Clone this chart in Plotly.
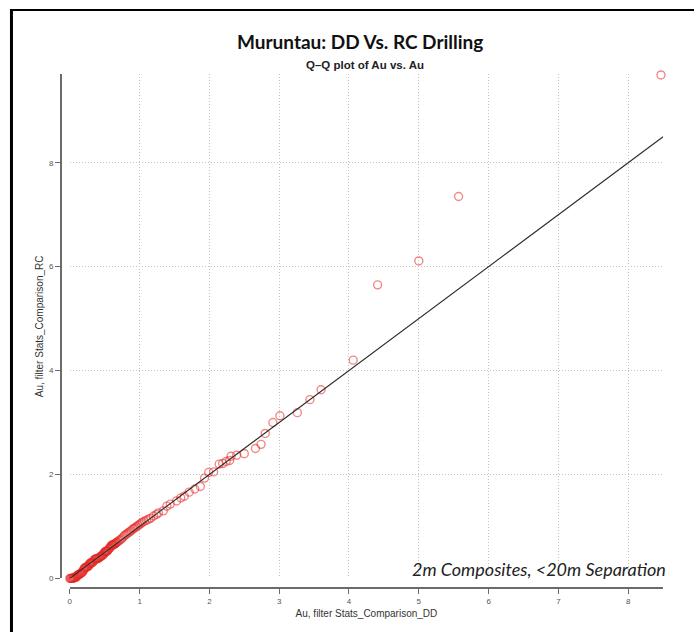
import plotly.graph_objects as go

# Q-Q quantile pairs: DD (x) vs RC (y), Au g/t
dd_quantiles = [
    0.00, 0.01, 0.02, 0.03, 0.04, 0.05, 0.05, 0.06, 0.07, 0.08,
    0.09, 0.10, 0.10, 0.11, 0.12, 0.13, 0.14, 0.15, 0.16, 0.17,
    0.18, 0.19, 0.20, 0.20, 0.21, 0.22, 0.23, 0.24, 0.25, 0.26,
    0.27, 0.28, 0.28, 0.29, 0.30, 0.31, 0.32, 0.33, 0.34, 0.35,
    0.36, 0.37, 0.38, 0.39, 0.40, 0.41, 0.42, 0.43, 0.44, 0.45,
    0.46, 0.47, 0.48, 0.49, 0.50, 0.50, 0.51, 0.52, 0.53, 0.54,
    0.55, 0.56, 0.57, 0.58, 0.59, 0.60, 0.60, 0.61, 0.62, 0.63,
    0.64, 0.65, 0.66, 0.67, 0.68, 0.70, 0.72, 0.74, 0.76, 0.78,
    0.80, 0.82, 0.84, 0.86, 0.88, 0.90, 0.92, 0.94, 0.96, 0.98,
    1.00, 1.02, 1.04, 1.07, 1.10, 1.13, 1.16, 1.20, 1.24, 1.27,
    1.34, 1.39, 1.44, 1.53, 1.59, 1.64, 1.71, 1.79, 1.87, 1.93,
    1.99, 2.06, 2.14, 2.19, 2.24, 2.29, 2.31, 2.39, 2.50, 2.66,
    2.74, 2.80, 2.91, 3.01, 3.26, 3.44, 3.60, 4.06, 4.41, 5.00,
    5.57, 8.47,
]
rc_quantiles = [
    0.00, 0.00, 0.00, 0.00, 0.00, 0.00, 0.01, 0.02, 0.02, 0.02,
    0.03, 0.03, 0.05, 0.06, 0.07, 0.07, 0.08, 0.09, 0.10, 0.11,
    0.12, 0.14, 0.16, 0.18, 0.20, 0.21, 0.21, 0.22, 0.22, 0.23,
    0.24, 0.26, 0.28, 0.29, 0.30, 0.30, 0.30, 0.31, 0.33, 0.36,
    0.37, 0.37, 0.38, 0.38, 0.38, 0.39, 0.40, 0.41, 0.42, 0.43,
    0.44, 0.44, 0.46, 0.48, 0.49, 0.51, 0.52, 0.52, 0.52, 0.53,
    0.55, 0.57, 0.58, 0.60, 0.62, 0.63, 0.64, 0.64, 0.65, 0.65,
    0.66, 0.67, 0.68, 0.69, 0.70, 0.72, 0.74, 0.76, 0.79, 0.82,
    0.84, 0.86, 0.88, 0.90, 0.92, 0.95, 0.96, 0.98, 1.00, 1.02,
    1.04, 1.06, 1.08, 1.10, 1.12, 1.14, 1.16, 1.20, 1.23, 1.26,
    1.30, 1.39, 1.43, 1.49, 1.55, 1.58, 1.66, 1.72, 1.77, 1.93,
    2.04, 2.05, 2.20, 2.21, 2.25, 2.27, 2.35, 2.37, 2.40, 2.50,
    2.58, 2.79, 3.00, 3.13, 3.19, 3.44, 3.63, 4.20, 5.65, 6.11,
    7.35, 9.69,
]

# 1:1 reference line
ref_line = [0.0, 8.5]

x_ticks = [0, 1, 2, 3, 4, 5, 6, 7, 8]
y_ticks = [0, 2, 4, 6, 8]

W, H = 694, 632


def px(v):
    return v / W


def py(v):
    return (H - v) / H


fig = go.Figure()

fig.add_trace(go.Scatter(
    x=dd_quantiles, y=rc_quantiles, mode="markers",
    marker=dict(symbol="circle-open", size=8,
                color="rgba(228,40,36,0.55)",
                line=dict(width=1.4, color="rgba(228,40,36,0.55)")),
    showlegend=False, cliponaxis=False,
))

fig.add_trace(go.Scatter(
    x=ref_line, y=ref_line, mode="lines",
    line=dict(color="#2b2b2b", width=1.1),
    hoverinfo="skip", showlegend=False, cliponaxis=False,
))

axis_common = dict(
    showline=True, linecolor="#6b6b6b", linewidth=1.5,
    ticks="outside", ticklen=5, tickwidth=1, tickcolor="#6b6b6b",
    tickfont=dict(family="Liberation Sans, Arial, sans-serif", size=8, color="#555555"),
    showgrid=True, gridcolor="#c4c4c4", gridwidth=1, griddash="1px,2px",
    zeroline=False, fixedrange=True,
)

fig.update_layout(
    width=W, height=H,
    margin=dict(l=0, r=0, t=0, b=0),
    paper_bgcolor="white", plot_bgcolor="white",
    xaxis=dict(
        **axis_common,
        domain=[px(68), px(663)], range=[0, 8.5],
        anchor="free", position=py(593),
        tickvals=x_ticks,
        title=dict(text="Au, filter Stats_Comparison_DD", standoff=4,
                   font=dict(family="Liberation Sans, Arial, sans-serif", size=10, color="#333333")),
    ),
    yaxis=dict(
        **axis_common,
        domain=[py(583), py(75)], range=[0, 9.7],
        anchor="free", position=px(59),
        tickvals=y_ticks,
        title=dict(text="Au, filter Stats_Comparison_RC", standoff=3,
                   font=dict(family="Liberation Sans, Arial, sans-serif", size=10, color="#333333")),
    ),
    annotations=[
        dict(text="<b>Muruntau: DD Vs. RC Drilling</b>", xref="paper", yref="paper",
             x=px(359), y=py(42), xanchor="center", yanchor="middle", showarrow=False,
             font=dict(family="Lato, sans-serif", size=19, color="#111111")),
        dict(text="<b>Q\u2013Q plot of Au vs. Au</b>", xref="paper", yref="paper",
             x=px(364), y=py(66), xanchor="center", yanchor="middle", showarrow=False,
             font=dict(family="Liberation Sans, Arial, sans-serif", size=11.5, color="#222222")),
        dict(text="<i>2m Composites, <20m Separation</i>", xref="paper", yref="paper",
             x=px(668), y=py(574), xanchor="right", yanchor="middle", showarrow=False,
             font=dict(family="Lato, sans-serif", size=18, color="#222222")),
    ],
    shapes=[
        # frame around the slide panel (left and top edges visible)
        dict(type="line", xref="paper", yref="paper", x0=px(9.5), x1=px(9.5),
             y0=py(9), y1=py(640), line=dict(color="black", width=3)),
        dict(type="line", xref="paper", yref="paper", x0=px(8), x1=px(700),
             y0=py(10), y1=py(10), line=dict(color="black", width=2)),
    ],
)

fig.write_html("out.html")
